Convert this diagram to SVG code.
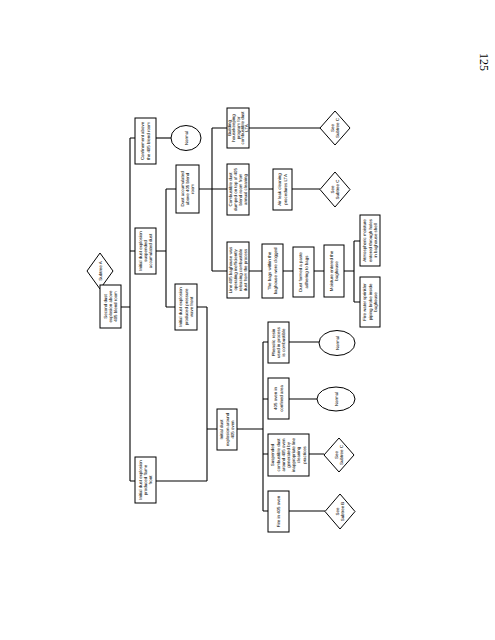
<svg xmlns="http://www.w3.org/2000/svg" width="495" height="640" viewBox="0 0 495 640">
<style>
.b{fill:#fff;stroke:#000;stroke-width:1}
.l{fill:none;stroke:#000;stroke-width:1.1}
.t{font-family:"Liberation Sans",Arial,sans-serif;font-size:8.8px;fill:#000;text-anchor:middle;text-rendering:geometricPrecision}
.pn{font-family:"Liberation Serif","Times New Roman",serif;font-size:12px;fill:#000}
</style>
<rect width="495" height="640" fill="#fff"/>
<g id="connectors" class="l">
<path d="M121,307 H130 M130,138 V481 M130,138 H135 M130,251 H135 M130,481 H135"/>
<path d="M156,138 H171"/>
<path d="M156,251 H166 M166,189 V307 M166,189 H176 M166,307 H175"/>
<path d="M199,189 H212 M212,128 V271 M212,128 H227 M212,189 H227 M212,271 H227"/>
<path d="M249,128 H320 M249,189 H273 M292,189 H320"/>
<path d="M249,271 H262 M283,271 H293 M314,271 H324 M344,271 H354 M354,241 V302 M354,241 H360 M354,302 H360"/>
<path d="M197,307 H207 M207,307 V481 M156,481 H207 M207,429 H217 M237,429 H263 M263,342 V511"/>
<path d="M263,342 H268 M263,399 H268 M263,454 H268 M263,511 H268"/>
<path d="M289,342 H319 M289,399 H317 M309,454 H324 M289,511 H325"/>
</g>
<g id="subtreeA"><polygon class="b" points="100,253 113,271 100,289 87,271"/><text class="t" transform="translate(100,271) rotate(-90) scale(0.5)" y="3">Subtree A</text></g>
<g id="n_second"><rect class="b" x="100" y="285" width="21" height="43"/><text class="t" transform="translate(110.5,306.5) rotate(-90) scale(0.5)"><tspan x="0" y="-7.4">Second dust</tspan><tspan x="0" y="3">explosion above</tspan><tspan x="0" y="13.4">405 blend room</tspan></text></g>
<g id="n_confine"><rect class="b" x="135" y="118" width="21" height="46"/><text class="t" transform="translate(145.5,141) rotate(-90) scale(0.5)"><tspan x="0" y="-2.2">Confinement above</tspan><tspan x="0" y="8.2">the 405 blend room</tspan></text></g>
<g id="n_normal1"><ellipse class="b" cx="186" cy="138" rx="15" ry="12.5"/><text class="t" transform="translate(186,138) rotate(-90) scale(0.5)" y="3">Normal</text></g>
<g id="n_suspend"><rect class="b" x="135" y="228" width="21" height="46"/><text class="t" transform="translate(145.5,251) rotate(-90) scale(0.5)"><tspan x="0" y="-7.4">Initial dust explosion</tspan><tspan x="0" y="3">suspended</tspan><tspan x="0" y="13.4">accumulated dust</tspan></text></g>
<g id="n_flame"><rect class="b" x="135" y="457" width="21" height="46"/><text class="t" transform="translate(145.5,480) rotate(-90) scale(0.5)"><tspan x="0" y="-7.4">Initial dust explosion</tspan><tspan x="0" y="3">produced flame</tspan><tspan x="0" y="13.4">front</tspan></text></g>
<g id="n_dustacc"><rect class="b" x="176" y="165" width="23" height="48"/><text class="t" transform="translate(187.5,189) rotate(-90) scale(0.5)"><tspan x="0" y="-7.4">Dust accumulated</tspan><tspan x="0" y="3">above 405 blend</tspan><tspan x="0" y="13.4">room</tspan></text></g>
<g id="n_pressure"><rect class="b" x="175" y="284" width="22" height="46"/><text class="t" transform="translate(186,307) rotate(-90) scale(0.5)"><tspan x="0" y="-7.4">Initial dust explosion</tspan><tspan x="0" y="3">produced pressure</tspan><tspan x="0" y="13.4">wave front</tspan></text></g>
<g id="n_oven"><rect class="b" x="217" y="409" width="20" height="41"/><text class="t" transform="translate(227,429.5) rotate(-90) scale(0.5)"><tspan x="0" y="-7.4">Initial dust</tspan><tspan x="0" y="3">explosion around</tspan><tspan x="0" y="13.4">405 oven</tspan></text></g>
<g id="n_building"><rect class="b" x="227" y="108" width="22" height="40"/><text class="t" transform="translate(238,128) rotate(-90) scale(0.5)"><tspan x="0" y="-13.8">Building</tspan><tspan x="0" y="-5.4">housekeeping</tspan><tspan x="0" y="3">program for</tspan><tspan x="0" y="11.4">combustible dust</tspan><tspan x="0" y="19.8">LTA</tspan></text></g>
<g id="n_dumped"><rect class="b" x="227" y="164" width="22" height="51"/><text class="t" transform="translate(238,189.5) rotate(-90) scale(0.5)"><tspan x="0" y="-12.6">Combustible dust</tspan><tspan x="0" y="-2.2">dumped on top of 405</tspan><tspan x="0" y="8.2">blend room from</tspan><tspan x="0" y="18.6">annual cleaning</tspan></text></g>
<g id="n_airleak"><rect class="b" x="273" y="169" width="19" height="41"/><text class="t" transform="translate(282.5,189.5) rotate(-90) scale(0.5)"><tspan x="0" y="-2.2">Air leak cleaning</tspan><tspan x="0" y="8.2">procedures LTA</tspan></text></g>
<g id="d_c1"><polygon class="b" points="335,111 350,128 335,145 320,128"/><text class="t" transform="translate(335,128) rotate(-90) scale(0.5)"><tspan x="0" y="-2.2">See</tspan><tspan x="0" y="8.2">Subtree C</tspan></text></g>
<g id="d_c2"><polygon class="b" points="335,172 350,189.5 335,207 320,189.5"/><text class="t" transform="translate(335,189.5) rotate(-90) scale(0.5)"><tspan x="0" y="-2.2">See</tspan><tspan x="0" y="8.2">Subtree C</tspan></text></g>
<g id="n_line405"><rect class="b" x="227" y="242" width="22" height="56"/><text class="t" transform="translate(238,270) rotate(-90) scale(0.5)"><tspan x="0" y="-12.6">Line 405 baghouse was</tspan><tspan x="0" y="-2.2">operating inefficiently</tspan><tspan x="0" y="8.2">releasing combustible</tspan><tspan x="0" y="18.6">dust from the process</tspan></text></g>
<g id="n_bags"><rect class="b" x="262" y="244" width="21" height="54"/><text class="t" transform="translate(272.5,271) rotate(-90) scale(0.5)"><tspan x="0" y="-2.2">The bags within the</tspan><tspan x="0" y="8.2">baghouse were clogged</tspan></text></g>
<g id="n_paste"><rect class="b" x="293" y="247" width="21" height="50"/><text class="t" transform="translate(303.5,272) rotate(-90) scale(0.5)"><tspan x="0" y="-2.2">Dust formed a paste</tspan><tspan x="0" y="8.2">adhering to bags</tspan></text></g>
<g id="n_moist"><rect class="b" x="324" y="245" width="20" height="52"/><text class="t" transform="translate(334,271) rotate(-90) scale(0.5)"><tspan x="0" y="-2.2">Moisture entered the</tspan><tspan x="0" y="8.2">baghouse</tspan></text></g>
<g id="n_atmos"><rect class="b" x="360" y="215" width="20" height="51"/><text class="t" transform="translate(370,240.5) rotate(-90) scale(0.5)"><tspan x="0" y="-7.4">Atmospheric moisture</tspan><tspan x="0" y="3">entered through holes</tspan><tspan x="0" y="13.4">in baghouse shell</tspan></text></g>
<g id="n_fire_water"><rect class="b" x="360" y="277" width="20" height="50"/><text class="t" transform="translate(370,302) rotate(-90) scale(0.5)"><tspan x="0" y="-7.4">Fire water sprinkler</tspan><tspan x="0" y="3">piping broke inside</tspan><tspan x="0" y="13.4">baghouse</tspan></text></g>
<g id="n_phenolic"><rect class="b" x="268" y="322" width="21" height="41"/><text class="t" transform="translate(278.5,342.5) rotate(-90) scale(0.5)"><tspan x="0" y="-7.4">Phenolic resin</tspan><tspan x="0" y="3">used in process</tspan><tspan x="0" y="13.4">is combustible</tspan></text></g>
<g id="e_normal2"><ellipse class="b" cx="337" cy="343" rx="18" ry="12.5"/><text class="t" transform="translate(337,343) rotate(-90) scale(0.5)" y="3">Normal</text></g>
<g id="n_confined"><rect class="b" x="268" y="378" width="21" height="41"/><text class="t" transform="translate(278.5,398.5) rotate(-90) scale(0.5)"><tspan x="0" y="-2.2">405 oven in</tspan><tspan x="0" y="8.2">confined area</tspan></text></g>
<g id="e_normal3"><ellipse class="b" cx="336" cy="399" rx="19" ry="12"/><text class="t" transform="translate(336,399) rotate(-90) scale(0.5)" y="3">Normal</text></g>
<g id="n_suspended"><rect class="b" x="268" y="434" width="41" height="42"/><text class="t" transform="translate(288.5,455) rotate(-90) scale(0.5)"><tspan x="0" y="-28.2">Suspended</tspan><tspan x="0" y="-17.8">combustible dust</tspan><tspan x="0" y="-7.4">around 405 oven</tspan><tspan x="0" y="3">generated by</tspan><tspan x="0" y="13.4">inappropriate line</tspan><tspan x="0" y="23.8">cleaning</tspan><tspan x="0" y="34.2">practices</tspan></text></g>
<g id="d_c3"><polygon class="b" points="339,438 354,455 339,472 324,455"/><text class="t" transform="translate(339,455) rotate(-90) scale(0.5)"><tspan x="0" y="-2.2">See</tspan><tspan x="0" y="8.2">Subtree C</tspan></text></g>
<g id="n_fire"><rect class="b" x="268" y="491" width="21" height="41"/><text class="t" transform="translate(278.5,511.5) rotate(-90) scale(0.5)" y="3">Fire in 405 oven</text></g>
<g id="d_b"><polygon class="b" points="340,494 355,511.5 340,529 325,511.5"/><text class="t" transform="translate(340,511.5) rotate(-90) scale(0.5)"><tspan x="0" y="-2.2">See</tspan><tspan x="0" y="8.2">Subtree B</tspan></text></g>
<text class="pn" transform="translate(480,62) rotate(90)" text-anchor="middle">125</text>
</svg>
